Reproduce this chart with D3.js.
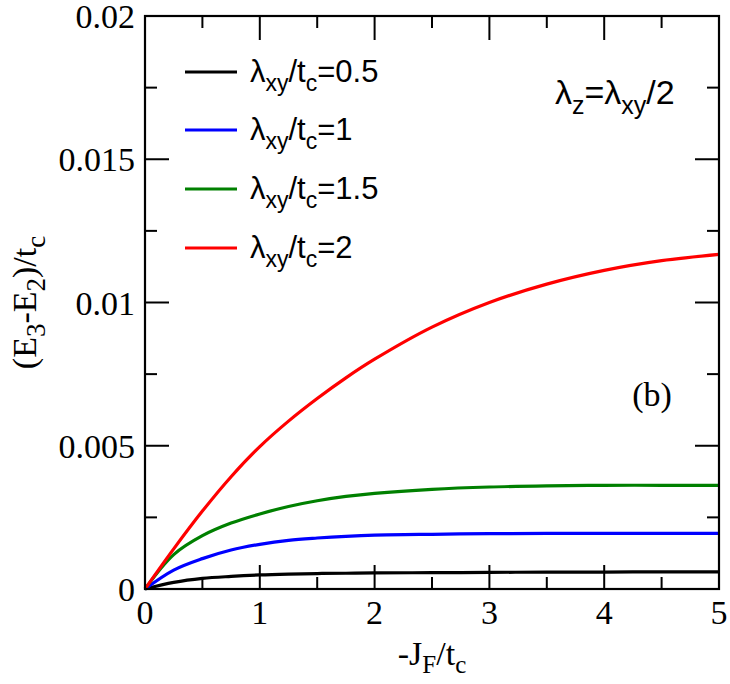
<!DOCTYPE html>
<html>
<head>
<meta charset="utf-8">
<script src="https://cdn.jsdelivr.net/npm/d3@7"></script>
<style>
  body { margin: 0; background: #fff; }
  svg { display: block; }
  .tick-label { font-family: "Liberation Serif", "Times New Roman", serif; font-size: 34px; }
  .sans { font-family: "Liberation Sans", Arial, sans-serif; }
</style>
</head>
<body>
<svg id="chart"></svg>
<script>
const width = 730, height = 684;
const margin = { left: 145, right: 11, top: 16, bottom: 95 };

// values
const jf    = [0, 0.25, 0.5, 0.75, 1, 1.25, 1.5, 1.75, 2, 2.5, 3, 3.5, 4, 4.5, 5];
const lam05 = [0, 0.00023, 0.00037, 0.00044, 0.00049, 0.00052, 0.00054, 0.00055, 0.00056, 0.00057, 0.00058, 0.00059, 0.00059, 0.00060, 0.00060];
const lam1  = [0, 0.00066, 0.00106, 0.00136, 0.00156, 0.00170, 0.00178, 0.00184, 0.00188, 0.00191, 0.00193, 0.00194, 0.00194, 0.00194, 0.00194];
const lam15 = [0, 0.00120, 0.00186, 0.00230, 0.00262, 0.00288, 0.00308, 0.00323, 0.00334, 0.00348, 0.00356, 0.00360, 0.00362, 0.00362, 0.00362];
const lam2  = [0, 0.00140, 0.00272, 0.00392, 0.00497, 0.00586, 0.00665, 0.00737, 0.00802, 0.00914, 0.01000, 0.01064, 0.01112, 0.01146, 0.01168];

const seriesNames = ['0.5', '1', '1.5', '2'];
const seriesColors = ['#000000', '#0000ff', '#008000', '#ff0000'];
const seriesValues = [lam05, lam1, lam15, lam2];

const xTicks = [0, 1, 2, 3, 4, 5];
const yTicks = [0, 0.005, 0.01, 0.015, 0.02];
const yTickLabels = ['0', '0.005', '0.01', '0.015', '0.02'];

const xScale = d3.scaleLinear()
  .domain([0, 5])
  .range([margin.left, width - margin.right]);

const yScale = d3.scaleLinear()
  .domain([0, 0.02])
  .range([height - margin.bottom, margin.top]);

const svg = d3.select('#chart')
  .attr('width', width)
  .attr('height', height);

const x0 = xScale(0), x1 = xScale(5), y0 = yScale(0), y1 = yScale(0.02);
const major = 24, minor = 12;

const drawTicks = () => {
  const g = svg.append('g').attr('stroke', '#000').attr('stroke-width', 2);
  const xMinor = d3.range(0, 5.01, 0.5);
  const yMinor = d3.range(0, 0.02001, 0.0025);
  xMinor.forEach(v => {
    const len = Math.abs(v - Math.round(v)) < 1e-6 ? major : minor;
    const x = xScale(v);
    g.append('line').attr('x1', x).attr('x2', x).attr('y1', y0).attr('y2', y0 - len);
    g.append('line').attr('x1', x).attr('x2', x).attr('y1', y1).attr('y2', y1 + len);
  });
  yMinor.forEach((v, i) => {
    const len = i % 2 === 0 ? major : minor;
    const y = yScale(v);
    g.append('line').attr('x1', x0).attr('x2', x0 + len).attr('y1', y).attr('y2', y);
    g.append('line').attr('x1', x1).attr('x2', x1 - len).attr('y1', y).attr('y2', y);
  });
};

const drawLabels = () => {
  svg.selectAll('.xlab')
    .data(xTicks)
    .enter()
    .append('text')
    .attr('class', 'tick-label')
    .attr('x', d => xScale(d))
    .attr('y', y0 + 35)
    .attr('text-anchor', 'middle')
    .text(d => d);

  svg.selectAll('.ylab')
    .data(yTicks)
    .enter()
    .append('text')
    .attr('class', 'tick-label')
    .attr('x', x0 - 10)
    .attr('y', d => yScale(d) + 12)
    .attr('text-anchor', 'end')
    .text((d, i) => yTickLabels[i]);

  // x title  -J_F/t_c
  const xt = svg.append('text')
    .attr('class', 'tick-label')
    .attr('x', (x0 + x1) / 2)
    .attr('y', 665)
    .attr('text-anchor', 'middle');
  xt.append('tspan').text('-J');
  xt.append('tspan').attr('dy', 8).attr('font-size', 25).text('F');
  xt.append('tspan').attr('dy', -8).text('/t');
  xt.append('tspan').attr('dy', 8).attr('font-size', 25).text('c');

  // y title  (E_3-E_2)/t_c
  const yt = svg.append('text')
    .attr('class', 'tick-label')
    .attr('font-size', 37)
    .attr('transform', `translate(36, ${(y0 + y1) / 2}) rotate(-90)`)
    .attr('text-anchor', 'middle');
  yt.append('tspan').text('(E');
  yt.append('tspan').attr('dy', 9).attr('font-size', 27).text('3');
  yt.append('tspan').attr('dy', -9).text('-E');
  yt.append('tspan').attr('dy', 9).attr('font-size', 27).text('2');
  yt.append('tspan').attr('dy', -9).text(')/t');
  yt.append('tspan').attr('dy', 9).attr('font-size', 27).text('c');

  svg.append('text')
    .attr('class', 'tick-label')
    .attr('x', 652)
    .attr('y', 406)
    .attr('text-anchor', 'middle')
    .text('(b)');

  const lz = svg.append('text')
    .attr('class', 'sans')
    .attr('x', 555)
    .attr('y', 104)
    .attr('font-size', 34);
  lz.append('tspan').text('λ');
  lz.append('tspan').attr('dy', 10).attr('font-size', 25).text('z');
  lz.append('tspan').attr('dy', -10).text('=λ');
  lz.append('tspan').attr('dy', 10).attr('font-size', 25).text('xy');
  lz.append('tspan').attr('dy', -10).text('/2');
};

const drawCurves = () => {
  const line = d3.line()
    .x((d, i) => xScale(jf[i]))
    .y(d => yScale(d))
    .curve(d3.curveCatmullRom.alpha(0.5));

  svg.selectAll('.curve')
    .data(seriesValues)
    .enter()
    .append('path')
    .attr('class', 'curve')
    .attr('fill', 'none')
    .attr('stroke', (d, i) => seriesColors[i])
    .attr('stroke-width', 3.2)
    .attr('d', line);
};

const drawLegend = () => {
  const rows = [72, 130, 189, 248];
  seriesNames.forEach((name, i) => {
    svg.append('line')
      .attr('x1', 185).attr('x2', 237)
      .attr('y1', rows[i]).attr('y2', rows[i])
      .attr('stroke', seriesColors[i])
      .attr('stroke-width', 3.2);
    const t = svg.append('text')
      .attr('class', 'sans')
      .attr('x', 250)
      .attr('y', rows[i] + 10)
      .attr('font-size', 31);
    t.append('tspan').text('λ');
    t.append('tspan').attr('dy', 9).attr('font-size', 23).text('xy');
    t.append('tspan').attr('dy', -9).text('/t');
    t.append('tspan').attr('dy', 9).attr('font-size', 23).text('c');
    t.append('tspan').attr('dy', -9).text('=' + name);
  });
};

drawCurves();
drawTicks();

svg.append('rect')
  .attr('x', x0).attr('y', y1)
  .attr('width', x1 - x0).attr('height', y0 - y1)
  .attr('fill', 'none')
  .attr('stroke', '#000')
  .attr('stroke-width', 2.2);

drawLabels();
drawLegend();
</script>
</body>
</html>
